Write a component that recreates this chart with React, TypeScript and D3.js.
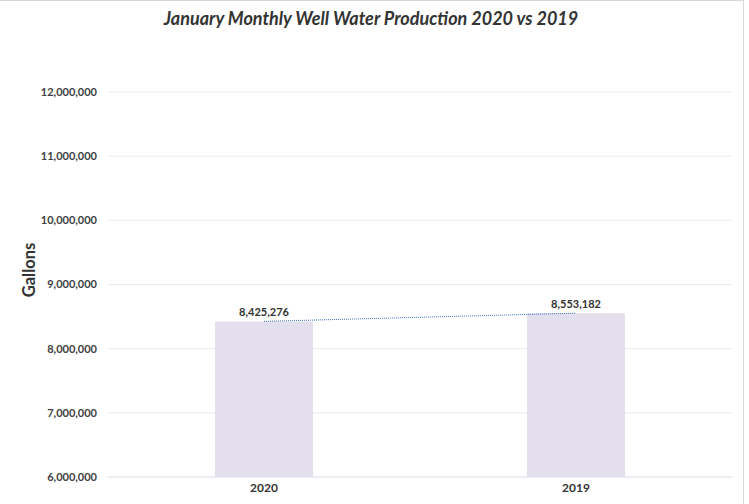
import React from "react";
import * as d3 from "d3";

const categories = ["2020", "2019"];
const values = [8425276, 8553182];
const yTicks = [6000000, 7000000, 8000000, 9000000, 10000000, 11000000, 12000000];
const title = "January Monthly Well Water Production 2020 vs 2019";
const yTitle = "Gallons";

const W = 749;
const H = 504;
const m = { left: 108, right: 732, top: 92, bottom: 477 };
const font = "Lato, 'Open Sans', sans-serif";

export default function App() {
  const x = d3.scaleBand<string>().domain(categories).range([m.left, m.right]).paddingInner(0.686).paddingOuter(0.343);
  const y = d3.scaleLinear().domain([6000000, 12000000]).range([m.bottom, m.top]);
  const fmt = d3.format(",");
  const line = d3
    .line<number>()
    .x((_, i) => (x(categories[i]) as number) + x.bandwidth() / 2)
    .y((d) => y(d));

  return (
    <svg width={W} height={H} style={{ position: "absolute", left: 0, top: 0, background: "#fff" }} fontFamily={font}>
      <line x1={0} x2={744} y1={0.5} y2={0.5} stroke="#d9d9d9" />
      <line x1={743.5} x2={743.5} y1={0} y2={H} stroke="#d9d9d9" />
      <text x={371} y={25} textAnchor="middle" fontSize={18} fontWeight="bold" fontStyle="italic" fill="#333">
        {title}
      </text>
      {yTicks.map((t) => (
        <g key={t}>
          <line x1={m.left} x2={m.right} y1={y(t)} y2={y(t)} stroke={t === 6000000 ? "#d9dde8" : "#e6eaf2"} strokeWidth={1} />
          <text x={97} y={y(t)} dy="0.35em" textAnchor="end" fontSize={11} fontWeight="bold" fill="#404040">
            {fmt(t)}
          </text>
        </g>
      ))}
      <text transform={`translate(35,270) rotate(-90)`} textAnchor="middle" fontSize={16.5} fontWeight="bold" fill="#333">
        {yTitle}
      </text>
      {categories.map((c, i) => (
        <g key={c}>
          <rect x={x(c)} y={y(values[i])} width={x.bandwidth()} height={m.bottom - y(values[i])} fill="#e4dfec" />
          <text x={(x(c) as number) + x.bandwidth() / 2} y={y(values[i]) - 5} textAnchor="middle" fontSize={11} fontWeight="bold" fill="#333">
            {fmt(values[i])}
          </text>
          <text x={(x(c) as number) + x.bandwidth() / 2} y={m.bottom + 15} textAnchor="middle" fontSize={12} fontWeight="bold" fill="#333">
            {c}
          </text>
        </g>
      ))}
      <path d={line(values) || ""} fill="none" stroke="#4472c4" strokeWidth={1} strokeDasharray="1,1" />
    </svg>
  );
}
